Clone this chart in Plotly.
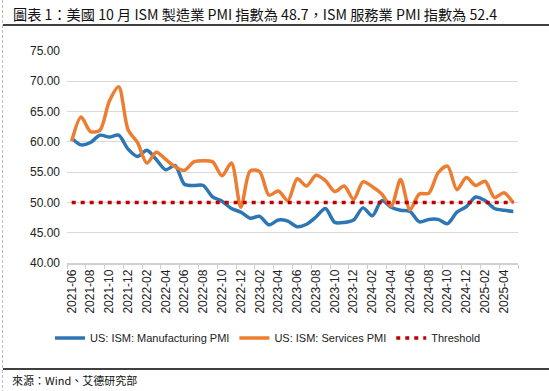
import plotly.graph_objects as go

months = [
    "2021-06", "2021-07", "2021-08", "2021-09", "2021-10", "2021-11", "2021-12",
    "2022-01", "2022-02", "2022-03", "2022-04", "2022-05", "2022-06", "2022-07",
    "2022-08", "2022-09", "2022-10", "2022-11", "2022-12",
    "2023-01", "2023-02", "2023-03", "2023-04", "2023-05", "2023-06", "2023-07",
    "2023-08", "2023-09", "2023-10", "2023-11", "2023-12",
    "2024-01", "2024-02", "2024-03", "2024-04", "2024-05", "2024-06", "2024-07",
    "2024-08", "2024-09", "2024-10", "2024-11", "2024-12",
    "2025-01", "2025-02", "2025-03", "2025-04", "2025-05",
]

manufacturing_pmi = [
    60.6, 59.5, 59.9, 61.1, 60.8, 61.1, 58.8,
    57.6, 58.6, 57.1, 55.4, 56.1, 53.0, 52.8,
    52.8, 50.9, 50.2, 49.0, 48.4,
    47.4, 47.7, 46.3, 47.1, 46.9, 46.0, 46.4,
    47.6, 49.0, 46.7, 46.7, 47.1,
    49.1, 47.8, 50.3, 49.2, 48.7, 48.5, 46.8,
    47.2, 47.2, 46.5, 48.4, 49.3,
    50.9, 50.3, 49.0, 48.7, 48.5,
]

services_pmi = [
    60.1, 64.1, 61.7, 61.9, 66.7, 69.1, 62.0,
    59.9, 56.5, 58.3, 57.1, 55.9, 55.3, 56.7,
    56.9, 56.7, 54.4, 56.5, 49.2,
    55.2, 55.1, 51.2, 51.9, 50.3, 53.9, 52.7,
    54.5, 53.6, 51.8, 52.7, 50.5,
    53.4, 52.6, 51.4, 49.4, 53.8, 48.8, 51.4,
    51.5, 54.9, 56.0, 52.1, 54.1,
    52.8, 53.5, 50.8, 51.6, 49.9,
]

threshold = [50.0] * len(months)

y_ticks = [40, 45, 50, 55, 60, 65, 70, 75]
y_tick_labels = ["40.00", "45.00", "50.00", "55.00", "60.00", "65.00", "70.00", "75.00"]

series_names = ["US: ISM: Manufacturing PMI", "US: ISM: Services PMI", "Threshold"]

title_text = "圖表 1：美國 10 月 ISM 製造業 PMI 指數為 48.7，ISM 服務業 PMI 指數為 52.4"
source_text = "來源：Wind、艾德研究部"

W, H = 549, 391
L, R, T, B = 67, 31, 51, 128
pw = W - L - R
ph = H - T - B


def px(xp):
    return (xp - L) / pw


def py(yp):
    return (H - B - yp) / ph


fig = go.Figure()
fig.add_trace(go.Scatter(
    x=months, y=manufacturing_pmi, mode="lines", name=series_names[0],
    line=dict(color="#2E75B6", width=3.5, shape="spline", smoothing=0.8),
))
fig.add_trace(go.Scatter(
    x=months, y=services_pmi, mode="lines", name=series_names[1],
    line=dict(color="#ED7D31", width=3.5, shape="spline", smoothing=0.8),
))
fig.add_trace(go.Scatter(
    x=months, y=threshold, mode="lines", name=series_names[2],
    line=dict(color="#C00000", width=3.5, dash="4px,5px"),
))

fig.update_layout(
    width=W, height=H,
    margin=dict(l=L, r=R, t=T, b=B, autoexpand=False),
    paper_bgcolor="white", plot_bgcolor="white",
    showlegend=True,
    legend=dict(
        orientation="h", x=px(50), xanchor="left", y=py(338), yanchor="middle",
        font=dict(family="Arial, Liberation Sans", size=11, color="#222222"),
        itemwidth=30, tracegroupgap=0, bgcolor="rgba(0,0,0,0)",
    ),
    font=dict(family="Arial, Liberation Sans", color="#222222"),
)

fig.update_xaxes(
    type="category", range=[-0.5, len(months) - 0.5],
    dtick=2, tickson="boundaries", ticks="outside", ticklen=4, tickcolor="#D0D0D0",
    tickangle=-90, tickfont=dict(family="Arial, Liberation Sans", size=12, color="#222222"),
    showgrid=False, showline=True, linecolor="#D0D0D0", linewidth=1.5, zeroline=False,
)
fig.update_yaxes(
    range=[40, 75], tickvals=y_ticks, ticktext=y_tick_labels,
    tickfont=dict(family="Arial, Liberation Sans", size=12, color="#222222"),
    showgrid=True, gridcolor="#D9D9D9", gridwidth=1.2, zeroline=False, showline=False,
    ticks="", ticklabelstandoff=6,
)

shapes = [
    dict(type="line", xref="paper", yref="paper", x0=px(3), x1=px(549), y0=py(25), y1=py(25),
         line=dict(color="#000000", width=1.5)),
    dict(type="line", xref="paper", yref="paper", x0=px(3), x1=px(549), y0=py(369), y1=py(369),
         line=dict(color="#000000", width=1.5)),
    dict(type="line", xref="paper", yref="paper", x0=px(2.5), x1=px(2.5), y0=py(0), y1=py(391),
         line=dict(color="#BBBBBB", width=1, dash="3px,2px")),
]
fig.update_layout(shapes=shapes)

fig.add_annotation(
    text=title_text, xref="paper", yref="paper", x=px(11), y=py(14),
    xanchor="left", yanchor="middle", showarrow=False,
    font=dict(family="Noto Sans CJK TC", size=14.2, color="#111111"),
)
fig.add_annotation(
    text=source_text, xref="paper", yref="paper", x=px(10), y=py(380),
    xanchor="left", yanchor="middle", showarrow=False,
    font=dict(family="Noto Sans CJK TC", size=11, color="#111111"),
)

fig.write_html(
    "out.html",
    config={"displayModeBar": False},
    post_script="document.body.style.margin='0';document.body.style.padding='0';",
)
